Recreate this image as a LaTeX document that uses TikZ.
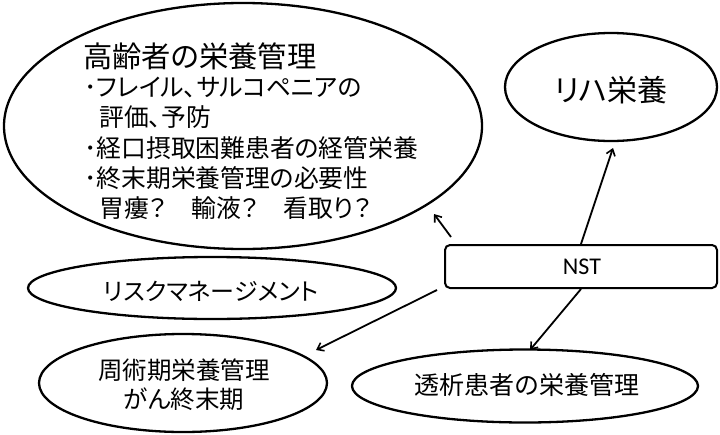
\documentclass[tikz,border=0pt]{standalone}
\usepackage{fontspec}
\newfontfamily\jp[RawFeature={+palt}]{Noto Sans CJK JP}
\newfontfamily\nstfont{Carlito}
\usetikzlibrary{shapes.geometric,arrows.meta}
\begin{document}
\begin{tikzpicture}[x=1pt,y=-1pt,
  bub/.style={ellipse,draw,line width=2.3pt,inner sep=0pt},
  jtxt/.style={inner sep=0pt,font=\jp\fontsize{24.8pt}{29pt}\selectfont},
  conn/.style={line width=1.8pt,-{Straight Barb[length=6pt,width=9pt,line width=1.6pt]}}]
\fill[white] (0,0) rectangle (720,434);
\useasboundingbox (0,0) rectangle (720,434);
% bubbles
\node[bub,minimum width=478,minimum height=246] (old) at (243,126) {};
\node[bub,minimum width=212,minimum height=108] (reha) at (611,87) {};
\node[bub,minimum width=368,minimum height=62] (risk) at (212,288) {};
\node[bub,minimum width=288,minimum height=98] (peri) at (183,383) {};
\node[bub,minimum width=346,minimum height=73] (dial) at (525,386) {};
\node[draw,line width=2pt,rounded corners=5pt,minimum width=272,minimum height=43,inner sep=0pt] (nst) at (581,266.5) {};
\node[inner sep=0pt] (tnst) at (582,267) {\nstfont\fontsize{24pt}{28pt}\selectfont NST};
% texts
\node[jtxt,anchor=west,font=\jp\fontsize{29.3pt}{33pt}\selectfont] (t0) at (83,56) {高齢者の栄養管理};
\node[jtxt,anchor=west] (t1) at (84,87) {･フレイル、サルコペニアの};
\node[jtxt,anchor=west] (t2) at (99,117) {評価、予防};
\node[jtxt,anchor=west] (t3) at (84,148) {･経口摂取困難患者の経管栄養};
\node[jtxt,anchor=west] (t4) at (84,178) {･終末期栄養管理の必要性};
\node[jtxt,anchor=west] (t5) at (99,208) {胃瘻？　輸液？　看取り？};
\node[jtxt,font=\jp\fontsize{30pt}{34pt}\selectfont] (treha) at (611,90) {リハ栄養};
\node[jtxt,font=\jp\fontsize{24pt}{29pt}\selectfont] (trisk) at (211,291) {リスクマネージメント};
\node[jtxt,align=center,font=\jp\fontsize{24.5pt}{29pt}\selectfont] (tperi) at (184,385) {周術期栄養管理\\がん終末期};
\node[jtxt,font=\jp\fontsize{25pt}{29pt}\selectfont] (tdial) at (527,385) {透析患者の栄養管理};
% arrow tips
\coordinate (p1) at (434,214);
\coordinate (p2) at (613,148);
\coordinate (p3) at (316,350);
\coordinate (p4) at (530,350);
\draw[conn] ([shift={(7,-7)}]nst.north west) -- (p1);
\draw[conn] (nst.north) -- (p2);
\draw[conn] ([shift={(-7,1)}]nst.south west) -- (p3);
\draw[conn] (nst.south) -- (p4);
\end{tikzpicture}
\end{document}
